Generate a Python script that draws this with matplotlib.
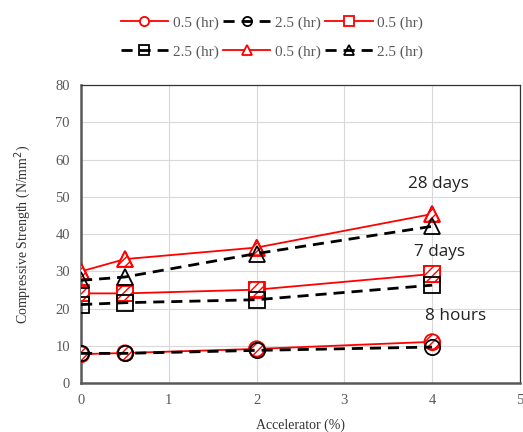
import matplotlib
matplotlib.use("Agg")
import matplotlib.pyplot as plt

accel = [0, 0.5, 2, 4]
h8_05 = [7.8, 8.1, 9.2, 11.1]
h8_25 = [8.0, 8.0, 8.8, 9.7]
d7_05 = [24.1, 24.1, 25.1, 29.3]
d7_25 = [21.1, 21.6, 22.4, 26.3]
d28_05 = [30.0, 33.3, 36.4, 45.4]
d28_25 = [27.6, 28.5, 34.8, 42.1]
labels = ["0.5 (hr)", "2.5 (hr)"]
annot = [("28 days", 4.07, 53.5), ("7 days", 4.08, 35.3), ("8 hours", 4.27, 18.0)]

fig = plt.figure(figsize=(5.23, 4.32), dpi=100)
ax = fig.add_axes([0.155, 0.113, 0.839, 0.690])

grey = "#595959"
handles = []
series = [(h8_05, h8_25, "o"), (d7_05, d7_25, "s"), (d28_05, d28_25, "^")]
for red_vals, blk_vals, m in series:
    ms = 11
    l1, = ax.plot(accel, red_vals, color="red", lw=1.3, marker=m, ms=ms,
                  mfc="white", mec="red", mew=1.3, zorder=3, label=labels[0])
    ax.scatter(accel, red_vals, marker=m, s=ms**2, facecolor="white",
               edgecolor="red", hatch="////", linewidths=1.3, zorder=4)
    l2, = ax.plot(accel, blk_vals, color="black", lw=2.0, ls=(0, (4, 2.5)), marker=m,
                  ms=ms, mfc="none", mec="black", mew=1.3, zorder=5, label=labels[1])
    handles += [l1, l2]

for txt, x, y in annot:
    ax.text(x, y, txt, fontsize=12.3, family="Open Sans", color="#222222",
            ha="center", va="center")

ax.set_xlim(0, 5)
ax.set_ylim(0, 80)
ax.set_xticks(range(0, 6))
ax.set_yticks(range(0, 81, 10))
ax.grid(True, color="#d9d9d9", lw=0.8)
ax.set_axisbelow(True)
for s in ["left", "bottom"]:
    ax.spines[s].set_color(grey)
    ax.spines[s].set_linewidth(1.8)
for s in ["top", "right"]:
    ax.spines[s].set_color("#333333")
    ax.spines[s].set_linewidth(0.9)
ax.tick_params(length=0, pad=8, labelsize=10.5, labelcolor=grey)
for lab in ax.get_xticklabels() + ax.get_yticklabels():
    lab.set_family("Liberation Serif")
ax.set_xlabel("Accelerator (%)", family="Liberation Serif", fontsize=10, color="#333333", labelpad=8)
ax.set_ylabel("Compressive Strength (N/mm$^2$)", family="Liberation Serif", fontsize=10,
              color="#333333", labelpad=16)

order = [0, 3, 1, 4, 2, 5]
leg = fig.legend([handles[i] for i in order], [handles[i].get_label() for i in order],
                 ncol=3, loc="center", bbox_to_anchor=(0.52, 0.914), frameon=False,
                 prop={"family": "Liberation Serif", "size": 11}, handlelength=3.1,
                 columnspacing=0.3, handletextpad=0.3, labelspacing=1.0, markerscale=0.6)
for t in leg.get_texts():
    t.set_color(grey)

fig.savefig("out.png", dpi=100)
